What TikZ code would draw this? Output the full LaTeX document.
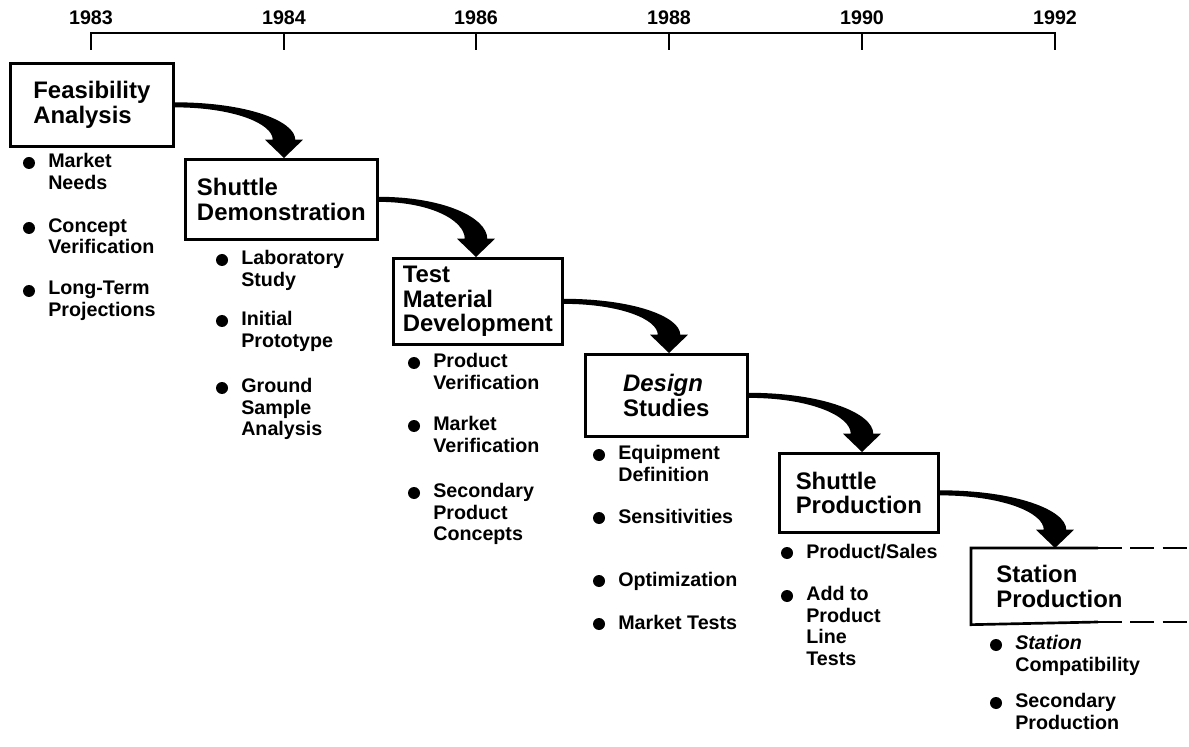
\documentclass[tikz,border=0pt]{standalone}
\usepackage{fontspec}
\setmainfont{Liberation Sans}
\usetikzlibrary{calc}
\newcommand\upx{0.025cm}
\newcommand\stagefont{\fontsize{17pt}{17.5pt}\selectfont\bfseries}
\newcommand\itemfont{\fontsize{14pt}{15.4pt}\selectfont\bfseries}
\newcommand\yearfont{\fontsize{14pt}{16pt}\selectfont\bfseries}
\tikzset{
  stage/.style={draw, line width=1.9pt, align=left, font=\stagefont, anchor=north west, inner sep=0pt},
  item/.style={anchor=north west, inner sep=0pt, align=left, font=\itemfont, execute at begin node=\strut},
  year/.style={anchor=base, font=\yearfont},
  axis/.style={line width=1.3pt},
  edgeline/.style={line width=1.9pt},
}
\begin{document}
\begin{tikzpicture}[x=\upx, y=-\upx]
            \useasboundingbox (0,0) rectangle (1189,747);

            % time line
            \foreach \yr/\x in {1983/91,1984/284,1986/476,1988/669,1990/862,1992/1055}{
                \node[year] (y\yr) at (\x,25) {\yr};
                \coordinate (a\yr) at (\x,33);
                \coordinate (t\yr) at (\x,50);
            }
            \draw[axis] (t1983) -- (a1983) -- (a1992) -- (t1992);
            \foreach \yr in {1984,1986,1988,1990}
                \draw[axis] (a\yr) -- (t\yr);

            % stages
            \node[stage, minimum width=163*\upx, minimum height=83*\upx] (feas) at (9,62) {Feasibility\\Analysis};
            \node[stage, minimum width=192*\upx, minimum height=80*\upx] (demo) at (184,158) {Shuttle\\Demonstration};
            \node[stage, minimum width=169*\upx, minimum height=86*\upx] (test) at (392,257) {Test\\Material\\Development};
            \node[stage, minimum width=162*\upx, minimum height=82*\upx] (design) at (584,353) {\textit{Design}\\Studies};
            \node[stage, minimum width=159*\upx, minimum height=79*\upx] (shprod) at (778,452) {Shuttle\\Production};
            \node[stage, draw=none, inner xsep=24*\upx, minimum height=74*\upx] (stat) at (971,548) {Station\\Production};
            % open box, runs off the page
            \draw[edgeline] (1098,548) -- (stat.north west) -- (stat.south west) -- (1098,622);
            \draw[edgeline, dash pattern=on 17pt off 6pt] (1098,548) -- (1189,548);
            \draw[edgeline, dash pattern=on 17pt off 6pt] (1098,622) -- (1189,622);

            % bullet items
            \node[item] (fa1) at (48,153) {Market\\Needs};
            \node[item] (fa2) at (48,218) {Concept\\Verification};
            \node[item] (fa3) at (48,281) {Long-Term\\Projections};

            \node[item] (sd1) at (241,250) {Laboratory\\Study};
            \node[item] (sd2) at (241,311) {Initial\\Prototype};
            \node[item] (sd3) at (241,378) {Ground\\Sample\\Analysis};

            \node[item] (tm1) at (433,353) {Product\\Verification};
            \node[item] (tm2) at (433,416) {Market\\Verification};
            \node[item] (tm3) at (433,483) {Secondary\\Product\\Concepts};

            \node[item] (ds1) at (618,445) {Equipment\\Definition};
            \node[item] (ds2) at (618,508) {Sensitivities};
            \node[item] (ds3) at (618,571) {Optimization};
            \node[item] (ds4) at (618,614) {Market Tests};

            \node[item] (sp1) at (806,543) {Product/Sales};
            \node[item] (sp2) at (806,586) {Add to\\Product\\Line\\Tests};

            \node[item] (st1) at (1015,635) {\textit{Station}\\Compatibility};
            \node[item] (st2) at (1015,693) {Secondary\\Production};

            \foreach \n in {fa1,fa2,fa3,sd1,sd2,sd3,tm1,tm2,tm3,ds1,ds2,ds3,ds4,sp1,sp2,st1,st2}
                \fill (\n.north west) ++(-19,10) circle[radius=6];

            % curved arrows from stage to stage
            \foreach \a/\b/\t in {feas/demo/t1984, demo/test/t1986, test/design/t1988, design/shprod/t1990, shprod/stat/t1992}
                \fill let \p1=(\a.east), \p2=(\t |- \b.north), \n1={\y2+13pt}, \n2={\x2+8pt}, \n3={\x2-8pt} in
                    (\x1,\y1+1.8pt) .. controls ({\x1+0.6*(\n2-\x1)},\y1+1.8pt) and (\n2,{\n1+0.5*(\y1+1.8pt-\n1)}) .. (\n2,\n1)
                    -- (\x2+13.5pt,\n1) -- (\p2) -- (\x2-13.5pt,\n1) -- (\n3,\n1)
                    .. controls (\n3,{\n1+0.5*(\y1-1.8pt-\n1)}) and ({\x1+0.6*(\n3-\x1)},\y1-1.8pt) .. (\x1,\y1-1.8pt) -- cycle;
\end{tikzpicture}
\end{document}
